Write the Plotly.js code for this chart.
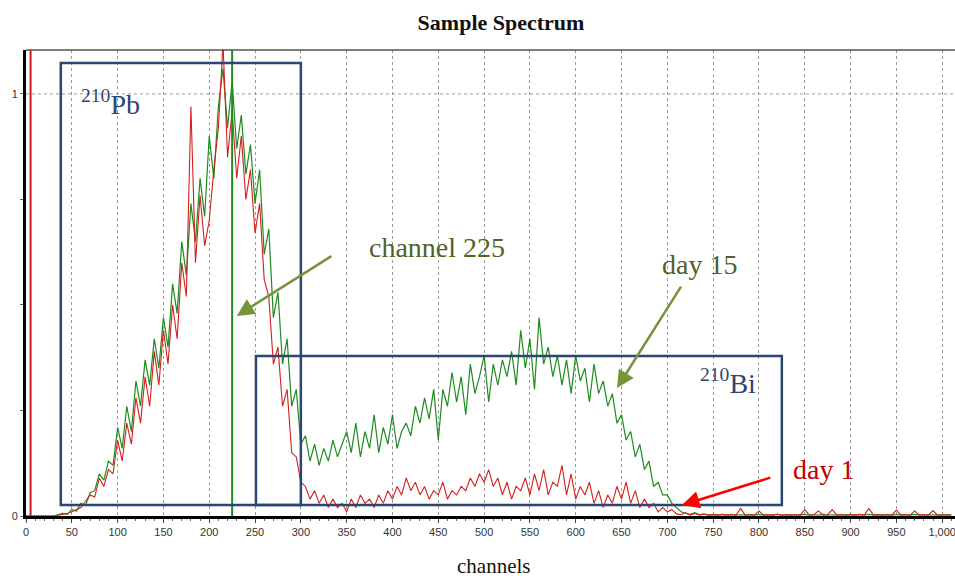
<!DOCTYPE html>
<html>
<head>
<meta charset="utf-8">
<script src="https://cdn.plot.ly/plotly-3.0.1.min.js"></script>
<style>html,body{margin:0;padding:0;background:#fff;}#chart{width:955px;height:578px;}</style>
</head>
<body>
<div id="chart"></div>
<script>
// channel step between samples
const channelStep = 5;

// day 15 (green) spectrum, channels 0..1010 every 5
const day15 = [
  0,0,0,0,0,0,0,0.003,0.006,0.004,
  0.015,0.012,0.03,0.025,0.055,0.06,0.1,0.085,0.13,0.12,
  0.21,0.16,0.26,0.2,0.32,0.26,0.37,0.31,0.42,0.35,
  0.47,0.4,0.55,0.48,0.65,0.57,0.74,0.65,0.8,0.71,
  0.9,0.8,0.97,1.06,0.92,1.03,0.87,0.95,0.81,0.88,
  0.74,0.82,0.62,0.68,0.47,0.53,0.36,0.42,0.26,0.3,
  0.17,0.19,0.13,0.17,0.12,0.16,0.13,0.18,0.14,0.17,
  0.2,0.15,0.22,0.14,0.2,0.16,0.24,0.15,0.21,0.17,
  0.24,0.16,0.2,0.22,0.19,0.26,0.22,0.28,0.23,0.3,
  0.18,0.3,0.26,0.34,0.27,0.33,0.24,0.36,0.29,0.33,
  0.38,0.27,0.36,0.31,0.37,0.33,0.39,0.31,0.44,0.35,
  0.42,0.3,0.47,0.36,0.4,0.33,0.38,0.31,0.37,0.29,
  0.38,0.32,0.35,0.27,0.36,0.29,0.32,0.26,0.29,0.22,
  0.24,0.18,0.2,0.14,0.17,0.11,0.13,0.07,0.08,0.05,
  0.05,0.03,0.02,0.01,0.006,0.004,0.008,0.003,0.005,0.002,
  0.004,0.002,0.003,0.002,0.004,0.002,0.003,0.002,0.003,0.002,
  0.004,0.002,0.003,0.002,0.004,0.002,0.003,0.002,0.003,0.002,
  0.004,0.002,0.003,0.002,0.004,0.002,0.003,0.002,0.003,0.002,
  0.004,0.002,0.003,0.002,0.004,0.002,0.003,0.002,0.003,0.002,
  0.004,0.002,0.003,0.002,0.004,0.002,0.003,0.002,0.003,0.002,
  0.002,0.003,0.002
];

// day 1 (red) spectrum, channels 0..1010 every 5
const day1 = [
  0,0,0,0,0,0,0,0.002,0.004,0.006,
  0.01,0.015,0.02,0.035,0.05,0.045,0.09,0.07,0.11,0.1,
  0.18,0.13,0.22,0.17,0.28,0.22,0.33,0.26,0.39,0.31,
  0.44,0.36,0.5,0.42,0.6,0.52,0.97,0.6,0.76,0.64,
  0.7,0.82,0.92,1.12,0.85,0.96,0.8,0.9,0.75,0.82,
  0.67,0.74,0.56,0.52,0.36,0.4,0.26,0.3,0.15,0.14,
  0.08,0.07,0.04,0.06,0.03,0.05,0.02,0.04,0.02,0.03,
  0.01,0.04,0.02,0.05,0.03,0.04,0.02,0.05,0.03,0.06,
  0.04,0.07,0.05,0.09,0.06,0.08,0.05,0.07,0.04,0.06,
  0.05,0.08,0.04,0.06,0.05,0.07,0.06,0.09,0.07,0.1,
  0.08,0.11,0.07,0.09,0.05,0.08,0.04,0.07,0.06,0.09,
  0.05,0.1,0.06,0.11,0.05,0.08,0.07,0.12,0.05,0.1,
  0.04,0.07,0.05,0.08,0.03,0.06,0.02,0.05,0.03,0.07,
  0.04,0.08,0.03,0.06,0.02,0.04,0.02,0.03,0.01,0.02,
  0.01,0.015,0.005,0.003,0.008,0.002,0.006,0.002,0.004,0.002,
  0.003,0.002,0.004,0.002,0.003,0.002,0.018,0.002,0.003,0.002,
  0.012,0.002,0.003,0.002,0.004,0.002,0.003,0.002,0.003,0.002,
  0.015,0.002,0.003,0.012,0.002,0.003,0.015,0.002,0.003,0.002,
  0.003,0.002,0.004,0.002,0.018,0.002,0.003,0.002,0.003,0.002,
  0.014,0.002,0.003,0.002,0.012,0.002,0.003,0.002,0.013,0.002,
  0.003,0.002,0.003
];

const channels = day15.map((_, i) => i * channelStep);

// marker lines (channels)
const markerGreen = 225;
const markerRed = 5;

// regions of interest [x0, x1, y0, y1]
const pbBox = [38, 300, 0.026, 1.073];
const biBox = [251, 825, 0.026, 0.379];

const xTickVals = [0,50,100,150,200,250,300,350,400,450,500,550,600,650,700,750,800,850,900,950,1000];
const yTickVals = [0, 0.25, 0.5, 0.75, 1];
const yTickText = ['0', '', '', '', '1'];

const traces = [
  {x: channels, y: day15, type: 'scatter', mode: 'lines', name: 'day 15',
   line: {color: '#1e8c1e', width: 1.2}},
  {x: channels, y: day1, type: 'scatter', mode: 'lines', name: 'day 1',
   line: {color: '#d41f1f', width: 1.1}}
];

const navy = '#2b4670';
const olive = '#4f6228';
const oliveArrow = '#77933c';
const serif = 'Liberation Serif, Times New Roman, serif';

const shapes = [
  {type: 'line', xref: 'x', yref: 'y', x0: 0, x1: 1014, y0: 1, y1: 1,
   line: {color: '#9a9a9a', width: 1, dash: '3px,3px'}, layer: 'below'},
  {type: 'line', xref: 'paper', yref: 'paper', x0: 0, x1: 1, y0: 1, y1: 1,
   line: {color: '#000', width: 1.2}},
  {type: 'line', xref: 'x', yref: 'paper', x0: markerRed, x1: markerRed, y0: 0, y1: 1,
   line: {color: '#c8201e', width: 2}},
  {type: 'line', xref: 'x', yref: 'paper', x0: markerGreen, x1: markerGreen, y0: 0, y1: 1,
   line: {color: '#1e8c1e', width: 2}},
  {type: 'rect', xref: 'x', yref: 'y', x0: pbBox[0], x1: pbBox[1], y0: pbBox[2], y1: pbBox[3],
   line: {color: navy, width: 2.5}},
  {type: 'rect', xref: 'x', yref: 'y', x0: biBox[0], x1: biBox[1], y0: biBox[2], y1: biBox[3],
   line: {color: navy, width: 2.5}}
];

const annotations = [
  {xref: 'x', yref: 'y', x: 92, y: 0.979, text: '<sup>210</sup>Pb', showarrow: false,
   font: {family: serif, size: 28, color: navy}},
  {xref: 'x', yref: 'y', x: 766, y: 0.318, text: '<sup>210</sup>Bi', showarrow: false,
   font: {family: serif, size: 28, color: navy}},
  {xref: 'x', yref: 'y', x: 449, y: 0.637, text: 'channel 225', showarrow: false,
   font: {family: serif, size: 28, color: olive}},
  {xref: 'x', yref: 'y', x: 735, y: 0.595, text: 'day 15', showarrow: false,
   font: {family: serif, size: 28, color: olive}},
  {xref: 'x', yref: 'y', x: 870, y: 0.111, text: 'day 1', showarrow: false,
   font: {family: serif, size: 28, color: '#c00000'}},
  // arrows
  {xref: 'x', yref: 'y', x: 230, y: 0.474, axref: 'x', ayref: 'y', ax: 335, ay: 0.618,
   text: '', showarrow: true, arrowhead: 2, arrowsize: 1.4, arrowwidth: 2.5, arrowcolor: oliveArrow},
  {xref: 'x', yref: 'y', x: 645, y: 0.303, axref: 'x', ayref: 'y', ax: 716, ay: 0.547,
   text: '', showarrow: true, arrowhead: 2, arrowsize: 1.4, arrowwidth: 2.5, arrowcolor: oliveArrow},
  {xref: 'x', yref: 'y', x: 716, y: 0.026, axref: 'x', ayref: 'y', ax: 814, ay: 0.092,
   text: '', showarrow: true, arrowhead: 2, arrowsize: 1.4, arrowwidth: 2.5, arrowcolor: '#ff0000'},
  {xref: 'paper', yref: 'paper', x: 0.503, y: -0.1373, text: 'channels', showarrow: false,
   xanchor: 'center', yanchor: 'bottom', font: {family: serif, size: 21, color: '#111'}}
];

const layout = {
  width: 955, height: 578,
  margin: {l: 26, r: 0, t: 50, b: 62},
  paper_bgcolor: '#fff', plot_bgcolor: '#fff',
  showlegend: false,
  title: {text: '<b>Sample Spectrum</b>', x: 501/955, xref: 'container', xanchor: 'center',
          y: 1 - 22/578, yref: 'container', yanchor: 'middle',
          font: {family: serif, size: 22, color: '#111'}},
  xaxis: {
    range: [0, 1014], tickvals: xTickVals, tickformat: ',d', ticklabeloverflow: 'allow',
    showgrid: true, gridcolor: '#9a9a9a', griddash: '3px,3px', gridwidth: 1,
    zeroline: false, showline: true, linecolor: '#000', linewidth: 2.5,
    ticks: 'outside', ticklen: 4, tickcolor: '#444',
    minor: {dtick: 10, tick0: 0, ticks: 'outside', ticklen: 2, tickcolor: '#666', showgrid: false},
    tickfont: {family: 'Liberation Sans, Arial, sans-serif', size: 11, color: '#333'},
    fixedrange: true
  },
  yaxis: {
    range: [0, 1.104], tickvals: yTickVals, ticktext: yTickText,
    showgrid: false, zeroline: false, showline: true, linecolor: '#000', linewidth: 3,
    ticks: 'outside', ticklen: 3, tickcolor: '#666',
    tickfont: {family: 'Liberation Sans, Arial, sans-serif', size: 11, color: '#333'},
    fixedrange: true
  },
  shapes: shapes,
  annotations: annotations
};

Plotly.newPlot('chart', traces, layout, {displayModeBar: false, staticPlot: true});
</script>
</body>
</html>
